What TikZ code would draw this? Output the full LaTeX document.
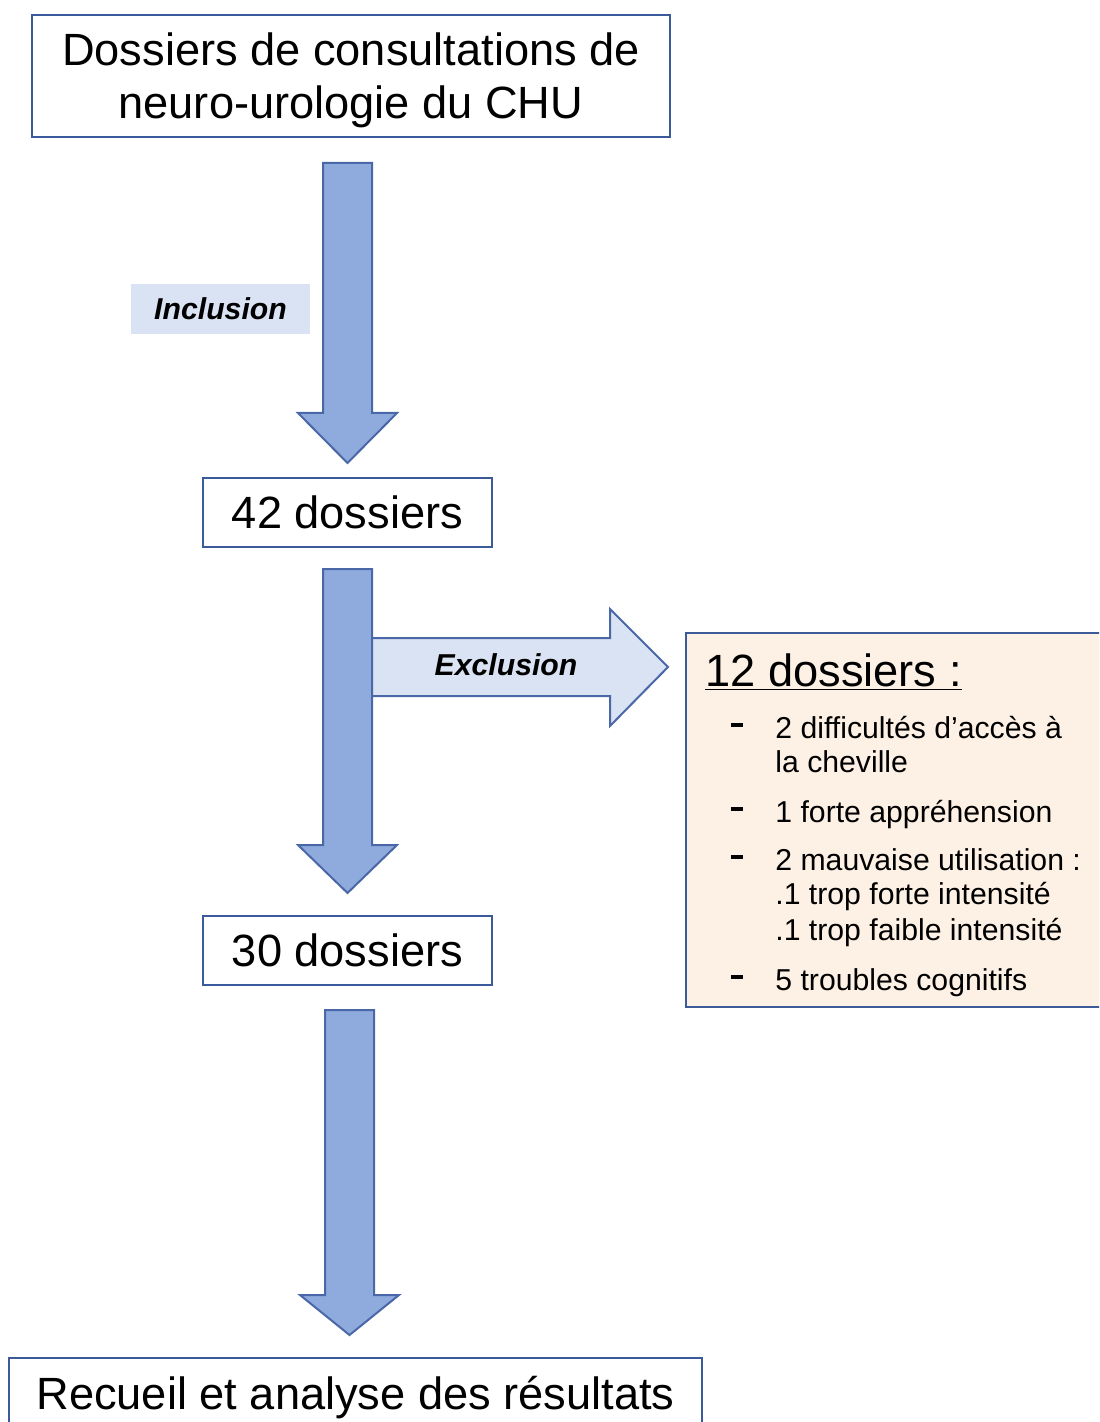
\documentclass[tikz,border=0pt]{standalone}
\usepackage{fontspec}
\setmainfont{Liberation Sans}
\usetikzlibrary{positioning}

\definecolor{boxblue}{HTML}{3B5A9A}
\definecolor{arrowfill}{HTML}{8FAADC}
\definecolor{arrowline}{HTML}{4A67A8}
\definecolor{paleblue}{HTML}{DAE3F3}
\definecolor{peach}{HTML}{FDF0E4}

\newcommand{\bigtext}{\fontsize{22.6}{26.5}\selectfont}
\newcommand{\smalltext}{\fontsize{15.1}{17}\selectfont}

\begin{document}
\begin{tikzpicture}[x=0.5pt,y=-0.5pt,
  box/.style={draw=boxblue,line width=1pt,fill=white,inner sep=0pt,align=center,font=\bigtext},
  bigarrow/.style={draw=arrowline,fill=arrowfill,line width=1pt,line join=miter},
  item/.style={anchor=base west,inner sep=0pt,font=\smalltext},
  tiret/.style={anchor=base west,inner sep=0pt}]
  \useasboundingbox (0,0) rectangle (1099,1422);
  \clip (0,0) rectangle (1099,1422);

  % boites principales
  \node[box,minimum width=319pt,minimum height=61pt] (dossiers) at (351,76)
    {\rule{0pt}{20.5pt}Dossiers de consultations de\\neuro-urologie du CHU};
  \node[box,minimum width=144.5pt,minimum height=34.5pt] (n42) at (347.5,512.5) {42 dossiers};
  \node[box,minimum width=144.5pt,minimum height=34.5pt] (n30) at (347.5,950) {30 dossiers};
  \node[box,minimum width=346.5pt,minimum height=36pt] (recueil) at (355.5,1394)
    {\rule{0pt}{19.7pt}Recueil et analyse des r\'esultats};

  % fleche d'exclusion
  \draw[bigarrow,fill=paleblue] (372,638) -- (610,638) -- (610,609) -- (668,667)
    -- (610,726) -- (610,696) -- (372,696);
  \node[font=\smalltext\bfseries\itshape] (excl) at (506,665) {Exclusion};

  % fleches verticales
  \foreach \xa/\ya/\yb/\yc in {323/163/413/463, 323/569/845/893, 325/1010/1295/1335}
    \draw[bigarrow] (\xa,\ya) -- ({\xa+49},\ya) -- ({\xa+49},\yb) -- ({\xa+74},\yb)
      -- ({\xa+24.5},\yc) -- ({\xa-25},\yb) -- (\xa,\yb) -- cycle;

  \node[fill=paleblue,minimum width=89.5pt,minimum height=25pt,
    font=\smalltext\bfseries\itshape] (incl) at (220.5,309) {Inclusion};

  % motifs d'exclusion
  \node[draw=boxblue,fill=peach,line width=1pt,minimum width=214.5pt,minimum height=187pt]
    (motifs) at (900.5,820) {};
  \node[item,font=\bigtext] (titre) at (705,686) {\underline{12 dossiers :}};
  \foreach \y/\n in {738/a,822/b,870/c,990/d}
    \node[tiret] (tiret-\n) at (731,\y) {\rule[5.5pt]{6pt}{2pt}};
  \node[item] (l1) at (775,738) {2 difficult\'es d'acc\`es \`a};
  \node[item] (l2) at (775,772) {la cheville};
  \node[item] (l3) at (775,822) {1 forte appr\'ehension};
  \node[item] (l4) at (775,870) {2 mauvaise utilisation :};
  \node[item] (l5) at (775,904) {.1 trop forte intensit\'e};
  \node[item] (l6) at (775,940) {.1 trop faible intensit\'e};
  \node[item] (l7) at (775,990) {5 troubles cognitifs};
\end{tikzpicture}
\end{document}
